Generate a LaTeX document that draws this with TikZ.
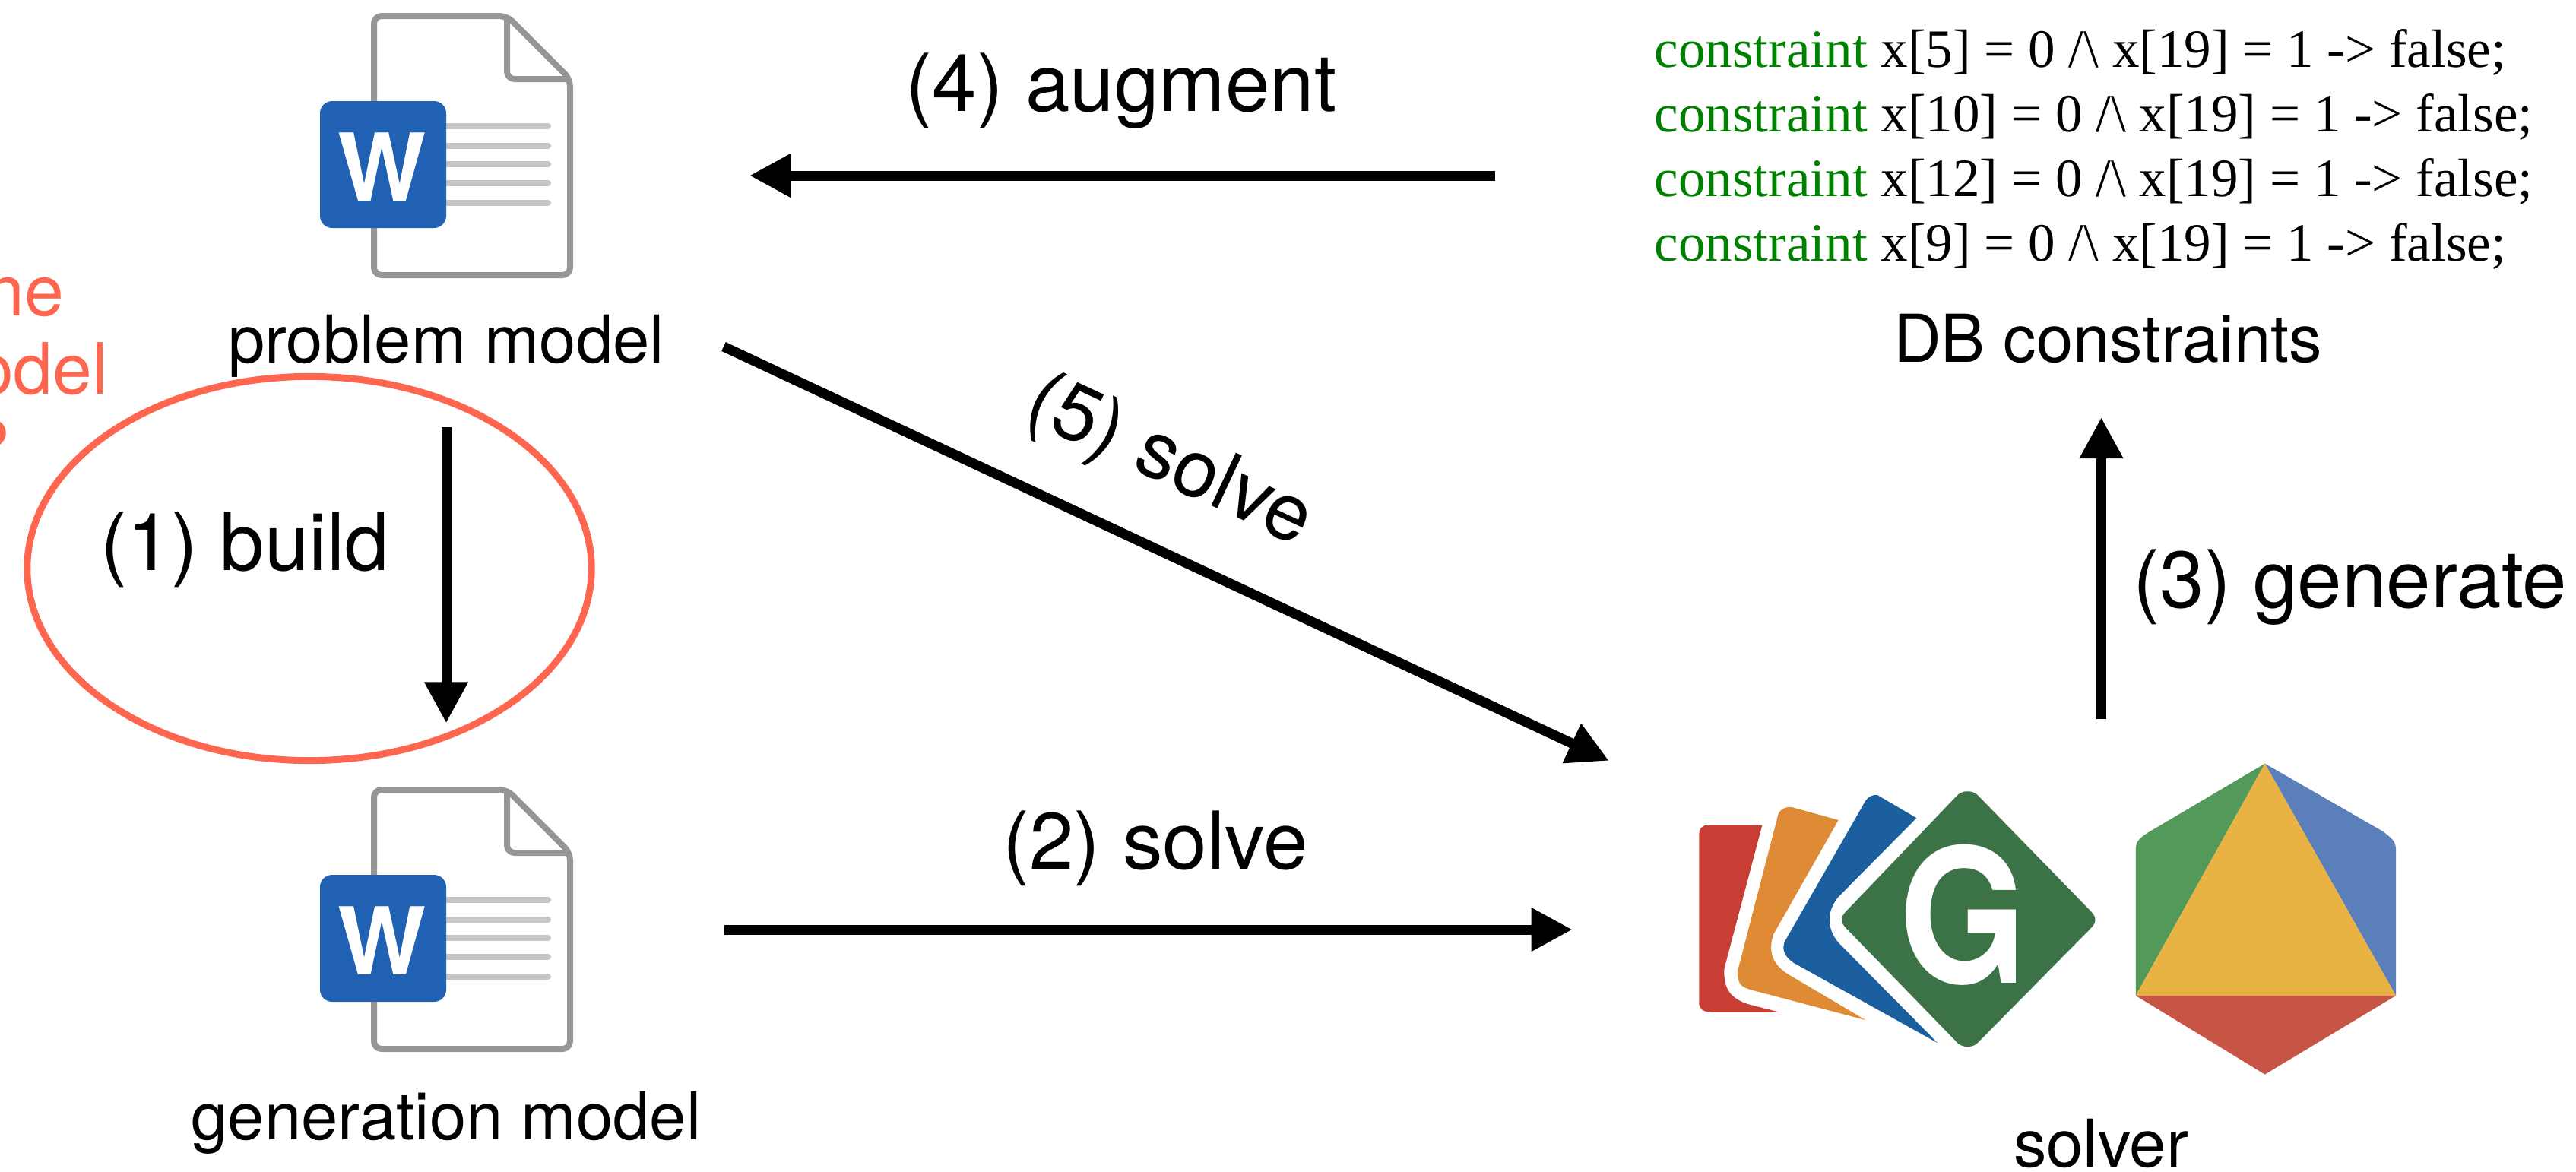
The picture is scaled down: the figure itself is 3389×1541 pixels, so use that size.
\documentclass[tikz,border=0pt]{standalone}
\usepackage{fontspec}
\setmainfont{TeX Gyre Heros}
\newfontfamily\codefont{Liberation Serif}
\usetikzlibrary{arrows.meta,shapes.geometric}
\definecolor{docgray}{RGB}{152,149,149}
\definecolor{rulegray}{RGB}{200,197,197}
\definecolor{wordblue}{RGB}{33,97,180}
\definecolor{noteorange}{RGB}{255,102,80}
\definecolor{codegreen}{RGB}{0,128,0}
\definecolor{cardred}{RGB}{200,62,52}
\definecolor{cardorange}{RGB}{223,139,54}
\definecolor{cardblue}{RGB}{28,95,159}
\definecolor{cardgreen}{RGB}{60,115,70}
\definecolor{hexgreen}{RGB}{82,153,90}
\definecolor{hexblue}{RGB}{91,127,187}
\definecolor{hexyellow}{RGB}{233,179,67}
\definecolor{hexred}{RGB}{199,85,69}
% word document icon: vertical offset
\newcommand{\wordicon}[1]{
    \begin{scope}[shift={(0,#1)}]
        \draw[docline] (667,21) -- (492,21) -- (492,362) -- (750,362) -- (750,104) -- cycle;
        \draw[docline] (667,21) -- (667,104) -- (750,104);
        \foreach \ypos in {166,192,216,241,267}
            \draw[line width=0.08cm, rulegray, line cap=round] (587,\ypos) -- (721,\ypos);
        \fill[wordblue, rounded corners=0.16cm] (421,133) rectangle (587,300);
        \node[wlabel] at (503,220) {W};
    \end{scope}
}
\begin{document}
\begin{tikzpicture}[
        x=0.01cm, y=-0.01cm,
        docline/.style={line width=0.08cm, docgray, rounded corners=0.1cm, line join=round},
        wlabel/.style={font=\bfseries\fontsize{35}{35}\selectfont, text=white, inner sep=0pt},
        caption/.style={font=\fontsize{24.7}{24.7}\selectfont, anchor=base, inner sep=0pt},
        steplabel/.style={font=\fontsize{29.9}{29.9}\selectfont, anchor=base, inner sep=0pt},
        note/.style={font=\fontsize{26.5}{26.5}\selectfont, text=noteorange, anchor=base east, inner sep=0pt},
        constr/.style={font=\codefont\fontsize{20.2}{20.2}\selectfont, anchor=base west, inner sep=0pt},
        holder/.style={inner sep=0pt, outer sep=0pt},
        arrow/.style={-{Triangle[width=0.54cm,length=0.54cm]}, line width=0.13cm}
    ]
        \clip (0,0) rectangle (3389,1541);

        % documents
        \wordicon{0}
        \wordicon{1018}
        \node[holder, minimum width=3.32cm, minimum height=3.45cm] (probicon) at (587,190) {};
        \node[holder, minimum width=3.32cm, minimum height=3.45cm] (genicon) at (587,1208) {};
        \node[caption] (prob) at (587,477) {problem model};
        \node[caption] (gen) at (587,1499) {generation model};

        % cut off note and its circle
        \node[note] (n1) at (85,415) {ne};
        \node[note] (n2) at (143,518) {odel};
        \node[note] (n3) at (14,621) {?};
        \node[ellipse, draw=noteorange, line width=0.09cm, minimum width=7.42cm, minimum height=5.05cm, inner sep=0pt] (circ) at (407,748) {};

        % constraints
        \node[constr] (c1) at (2176,88) {\textcolor{codegreen}{constraint} x[5] = 0 /\textbackslash{} x[19] = 1 -> false;};
        \node[constr] (c2) at (2176,173) {\textcolor{codegreen}{constraint} x[10] = 0 /\textbackslash{} x[19] = 1 -> false;};
        \node[constr] (c3) at (2176,258) {\textcolor{codegreen}{constraint} x[12] = 0 /\textbackslash{} x[19] = 1 -> false;};
        \node[constr] (c4) at (2176,343) {\textcolor{codegreen}{constraint} x[9] = 0 /\textbackslash{} x[19] = 1 -> false;};
        \node[caption] (db) at (2773,476) {DB constraints};

        % solver logos
        \begin{scope}[shift={(2150,950)}, xscale=0.7902, yscale=0.3769]
            \fill[cardred] (122,360) -- (213,360) -- (150,860) .. controls (148,930) and (160,965) .. (190,985) -- (242,1013) -- (130,1013) .. controls (115,1013) and (108,1000) .. (108,985) -- (108,390) .. controls (108,375) and (112,360) .. (122,360) -- cycle;
            \fill[cardorange] (262,297) -- (340,342) -- (232,740) .. controls (222,800) and (230,850) .. (260,885) -- (385,1040) -- (195,935) .. controls (178,925) and (172,915) .. (172,870) -- (240,320) .. controls (243,305) and (252,295) .. (262,297) -- cycle;
            \fill[cardblue] (405,255) -- (470,335) -- (340,610) .. controls (320,660) and (320,720) .. (340,770) -- (505,1120) -- (265,840) .. controls (245,810) and (245,780) .. (255,750) -- (385,275) .. controls (390,260) and (398,252) .. (405,255) -- cycle;
            \fill[cardgreen] (555,242) .. controls (565,242) and (570,250) .. (575,262) -- (760,660) .. controls (770,680) and (770,700) .. (760,720) -- (575,1113) .. controls (570,1125) and (565,1133) .. (555,1133) .. controls (545,1133) and (540,1125) .. (535,1113) -- (353,720) .. controls (343,700) and (343,680) .. (353,660) -- (535,262) .. controls (540,250) and (545,242) .. (555,242) -- cycle;
            \fill[hexgreen] (1050,145) -- (860,380) .. controls (840,405) and (835,420) .. (835,440) -- (835,955) -- cycle;
            \fill[hexblue] (1050,145) -- (1245,380) .. controls (1262,405) and (1268,420) .. (1268,440) -- (1268,955) -- cycle;
            \fill[hexyellow] (1050,145) -- (835,955) -- (1268,955) -- cycle;
            \fill[hexred] (835,955) -- (1268,955) -- (1050,1230) -- cycle;
        \end{scope}
        \node[font=\bfseries\fontsize{70}{70}\selectfont, text=white, xscale=0.88, inner sep=0pt] (glogo) at (2583,1204) {G};
        \node[holder, minimum width=9.2cm, minimum height=4.2cm] (solver) at (2695,1210) {};
        \node[caption] (slv) at (2764,1535) {solver};

        % step labels
        \node[steplabel] (s1) at (322,750) {(1) build};
        \node[steplabel] (s2) at (1520,1143) {(2) solve};
        \node[steplabel] (s3) at (3092,799) {(3) generate};
        \node[steplabel] (s4) at (1475,146) {(4) augment};
        \node[steplabel, rotate=-25] (s5) at (1526,634) {(5) solve};

        \draw[arrow] ([shift={(0,85)}]prob.base) -- ([shift={(0,-84)}]genicon.north);
        \draw[arrow] ([shift={(200,15)}]genicon.east) -- ([shift={(-166,13)}]solver.west);
        \draw[arrow] ([shift={(69.5,-54)}]solver.north) -- ([shift={(-8.5,73)}]db.base);
        \draw[arrow] ([shift={(-209,143)}]c1.base west) -- ([shift={(233,41)}]probicon.east);
        \draw[arrow] ([shift={(365,-21)}]prob.base) -- ([shift={(-118,1)}]solver.north west);
    \end{tikzpicture}
\end{document}
